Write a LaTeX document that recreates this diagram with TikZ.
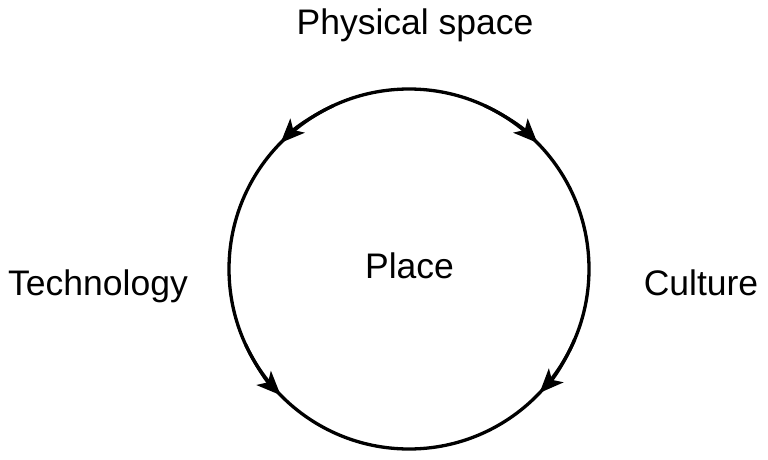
\documentclass[tikz,border=0pt]{standalone}
\usepackage{fontspec}
\setmainfont{Liberation Sans}
\usetikzlibrary{arrows.meta}
\begin{document}
\begin{tikzpicture}[x=1pt,y=1pt,
  lbl/.style={anchor=base,inner sep=0pt,font=\fontsize{35.5}{40}\selectfont},
  ring/.style={line width=3.3pt},
  tipped/.style={line width=3.3pt,-{Stealth[length=24pt,width=20pt,inset=6pt]}}]
\useasboundingbox (0,0) rectangle (768,459);
\coordinate (c) at (409,190);
\draw[ring] (c) circle[radius=180];
\draw[tipped] (c) ++(115:180) arc[start angle=115,end angle=135.5,radius=180];
\draw[tipped] (c) ++(65:180) arc[start angle=65,end angle=44.5,radius=180];
\draw[tipped] (c) ++(205:180) arc[start angle=205,end angle=224.5,radius=180];
\draw[tipped] (c) ++(-23:180) arc[start angle=-23,end angle=-43.5,radius=180];
\node[lbl] (phys) at (415,424) {Physical space};
\node[lbl] (tech) at (98,164) {Technology};
\node[lbl] (cult) at (701,164) {Culture};
\node[lbl] (place) at (409.5,181) {Place};
\end{tikzpicture}
\end{document}
